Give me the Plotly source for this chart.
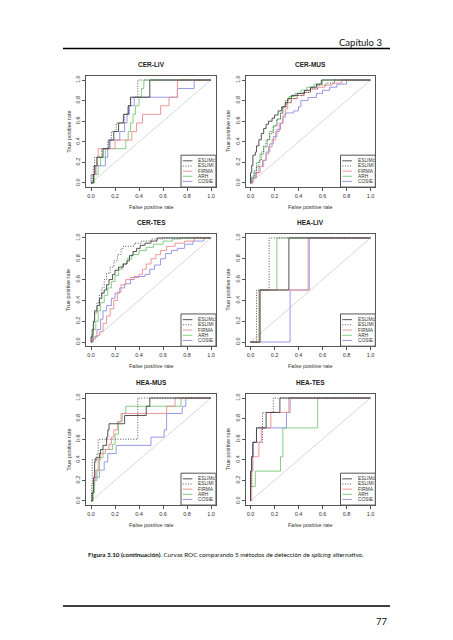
import plotly.graph_objects as go

W, H = 453, 640

methods = ["ESLIMc", "ESLIMl", "FIRMA", "ARH", "COSIE"]
method_colors = ["#404040", "#404040", "#ee8a8a", "#78c878", "#8c8cea"]
method_dash = ["solid", "1px,1.6px", "solid", "solid", "solid"]
panel_titles = ["CER-LIV", "CER-MUS", "CER-TES", "HEA-LIV", "HEA-MUS", "HEA-TES"]
tick_vals = [0, 0.2, 0.4, 0.6, 0.8, 1.0]
tick_text = ["0.0", "0.2", "0.4", "0.6", "0.8", "1.0"]
x_label = "False positive rate"
y_label = "True positive rate"

# ROC curves: (false positive rate where TPR rises, TPR level reached)
cer_liv_eslimc = [(0, 0), (0.02, 0.083), (0.03, 0.167), (0.05, 0.25), (0.10, 0.333), (0.15, 0.417), (0.19, 0.5),
                  (0.23, 0.583), (0.27, 0.667), (0.31, 0.75), (0.33, 0.833), (0.49, 1.0), (1, 1)]
cer_liv_esliml = [(0, 0), (0.01, 0.083), (0.02, 0.167), (0.03, 0.25), (0.09, 0.333), (0.14, 0.417), (0.17, 0.5),
                  (0.21, 0.583), (0.28, 0.667), (0.31, 0.75), (0.33, 0.833), (0.39, 1.0), (1, 1)]
cer_liv_firma = [(0, 0), (0.02, 0.083), (0.04, 0.167), (0.05, 0.25), (0.06, 0.333), (0.20, 0.417), (0.34, 0.5),
                 (0.38, 0.583), (0.43, 0.667), (0.58, 0.75), (0.65, 0.833), (0.72, 1.0), (1, 1)]
cer_liv_arh = [(0, 0), (0.03, 0.083), (0.06, 0.167), (0.08, 0.25), (0.12, 0.333), (0.29, 0.417), (0.31, 0.5),
               (0.33, 0.583), (0.35, 0.667), (0.37, 0.75), (0.40, 0.833), (0.42, 0.917), (0.44, 1.0), (1, 1)]
cer_liv_cosie = [(0, 0), (0.0, 0.083), (0.04, 0.167), (0.12, 0.25), (0.14, 0.333), (0.16, 0.417), (0.24, 0.5),
                 (0.28, 0.583), (0.30, 0.667), (0.32, 0.75), (0.36, 0.833), (0.72, 0.917), (0.86, 1.0), (1, 1)]

cer_mus_eslimc = [(0, 0), (0.0, 0.1), (0.01, 0.17), (0.02, 0.27), (0.04, 0.3), (0.05, 0.36), (0.07, 0.42),
                  (0.09, 0.48), (0.11, 0.53), (0.13, 0.57), (0.15, 0.6), (0.18, 0.63), (0.2, 0.66), (0.23, 0.7),
                  (0.26, 0.74), (0.29, 0.78), (0.31, 0.82), (0.34, 0.85), (0.39, 0.87), (0.45, 0.9), (0.5, 0.93),
                  (0.55, 0.96), (0.59, 1.0), (1, 1)]
cer_mus_esliml = [(0, 0), (0.01, 0.05), (0.03, 0.1), (0.05, 0.16), (0.07, 0.22), (0.09, 0.3), (0.11, 0.36),
                  (0.13, 0.42), (0.16, 0.48), (0.19, 0.55), (0.22, 0.62), (0.25, 0.68), (0.27, 0.74), (0.3, 0.78),
                  (0.34, 0.82), (0.38, 0.85), (0.44, 0.88), (0.5, 0.92), (0.56, 0.95), (0.63, 0.97), (0.7, 1.0), (1, 1)]
cer_mus_firma = [(0, 0), (0.02, 0.05), (0.05, 0.1), (0.08, 0.16), (0.11, 0.22), (0.13, 0.28), (0.15, 0.35),
                 (0.18, 0.42), (0.21, 0.5), (0.24, 0.58), (0.27, 0.66), (0.29, 0.72), (0.31, 0.78), (0.34, 0.82),
                 (0.39, 0.85), (0.45, 0.88), (0.5, 0.91), (0.56, 0.93), (0.62, 0.95), (0.68, 0.97), (0.76, 1.0), (1, 1)]
cer_mus_arh = [(0, 0), (0.01, 0.06), (0.03, 0.12), (0.05, 0.2), (0.08, 0.28), (0.11, 0.35), (0.14, 0.42),
               (0.16, 0.5), (0.19, 0.56), (0.22, 0.62), (0.25, 0.68), (0.27, 0.74), (0.29, 0.8), (0.32, 0.84),
               (0.37, 0.87), (0.42, 0.9), (0.47, 0.93), (0.53, 0.96), (0.6, 1.0), (1, 1)]
cer_mus_cosie = [(0, 0), (0.02, 0.05), (0.04, 0.1), (0.07, 0.16), (0.1, 0.22), (0.13, 0.3), (0.16, 0.38),
                 (0.19, 0.45), (0.22, 0.52), (0.25, 0.58), (0.27, 0.64), (0.29, 0.68), (0.36, 0.7), (0.4, 0.74),
                 (0.42, 0.8), (0.48, 0.83), (0.55, 0.87), (0.6, 0.9), (0.66, 0.93), (0.72, 0.96), (0.8, 1.0), (1, 1)]

cer_tes_eslimc = [(0, 0), (0.0, 0.05), (0.01, 0.12), (0.02, 0.2), (0.03, 0.3), (0.05, 0.35), (0.07, 0.42),
                  (0.09, 0.47), (0.11, 0.5), (0.13, 0.55), (0.15, 0.6), (0.18, 0.65), (0.2, 0.69), (0.23, 0.72),
                  (0.27, 0.75), (0.3, 0.78), (0.32, 0.83), (0.35, 0.87), (0.38, 0.9), (0.41, 0.93), (0.45, 0.95),
                  (0.5, 0.97), (0.55, 1.0), (1, 1)]
cer_tes_esliml = [(0, 0), (0.01, 0.08), (0.02, 0.18), (0.03, 0.28), (0.05, 0.38), (0.07, 0.45), (0.09, 0.52),
                  (0.11, 0.6), (0.13, 0.66), (0.16, 0.72), (0.19, 0.78), (0.22, 0.84), (0.25, 0.9), (0.27, 0.92),
                  (0.36, 0.95), (0.42, 0.97), (0.5, 0.99), (0.6, 1.0), (1, 1)]
cer_tes_firma = [(0, 0), (0.01, 0.03), (0.04, 0.06), (0.07, 0.1), (0.1, 0.18), (0.13, 0.25), (0.16, 0.32),
                 (0.19, 0.4), (0.22, 0.48), (0.25, 0.55), (0.29, 0.6), (0.33, 0.62), (0.4, 0.65), (0.43, 0.7),
                 (0.46, 0.75), (0.5, 0.8), (0.54, 0.84), (0.58, 0.88), (0.63, 0.92), (0.7, 0.95), (0.78, 0.97),
                 (0.86, 1.0), (1, 1)]
cer_tes_arh = [(0, 0), (0.01, 0.05), (0.02, 0.12), (0.04, 0.2), (0.06, 0.3), (0.08, 0.38), (0.11, 0.45),
               (0.14, 0.52), (0.17, 0.58), (0.2, 0.64), (0.23, 0.7), (0.26, 0.75), (0.3, 0.8), (0.34, 0.84),
               (0.4, 0.88), (0.46, 0.91), (0.52, 0.94), (0.6, 0.97), (0.68, 0.99), (0.75, 1.0), (1, 1)]
cer_tes_cosie = [(0, 0), (0.02, 0.05), (0.05, 0.12), (0.08, 0.22), (0.1, 0.3), (0.13, 0.35), (0.17, 0.42),
                 (0.2, 0.47), (0.24, 0.52), (0.28, 0.56), (0.33, 0.6), (0.36, 0.63), (0.45, 0.65), (0.49, 0.7),
                 (0.53, 0.74), (0.58, 0.8), (0.62, 0.85), (0.67, 0.88), (0.72, 0.9), (0.78, 0.94), (0.85, 0.97),
                 (0.94, 1.0), (1, 1)]

hea_liv_eslimc = [(0, 0), (0.08, 0.5), (0.32, 1.0), (1, 1)]
hea_liv_esliml = [(0, 0), (0.05, 0.5), (0.155, 1.0), (1, 1)]
hea_liv_firma = [(0, 0), (0.075, 0.5), (0.48, 1.0), (1, 1)]
hea_liv_arh = [(0, 0), (0.07, 0.5), (0.22, 1.0), (1, 1)]
hea_liv_cosie = [(0, 0), (0.33, 0.5), (0.49, 1.0), (1, 1)]

hea_mus_eslimc = [(0, 0), (0.01, 0.08), (0.02, 0.23), (0.03, 0.38), (0.04, 0.42), (0.07, 0.46), (0.08, 0.5),
                  (0.1, 0.54), (0.13, 0.62), (0.14, 0.69), (0.15, 0.75), (0.28, 0.83), (0.46, 0.92), (0.49, 1.0), (1, 1)]
hea_mus_esliml = [(0, 0), (0.005, 0.15), (0.01, 0.4), (0.05, 0.46), (0.06, 0.6), (0.39, 1.0), (1, 1)]
hea_mus_firma = [(0, 0), (0.01, 0.08), (0.02, 0.2), (0.04, 0.3), (0.06, 0.4), (0.08, 0.46), (0.12, 0.5),
                 (0.15, 0.55), (0.17, 0.62), (0.19, 0.69), (0.22, 0.77), (0.25, 0.85), (0.63, 0.92), (0.70, 1.0), (1, 1)]
hea_mus_arh = [(0, 0), (0.02, 0.08), (0.03, 0.2), (0.05, 0.3), (0.07, 0.42), (0.1, 0.5), (0.18, 0.55),
               (0.2, 0.65), (0.23, 0.77), (0.26, 0.85), (0.29, 0.92), (0.75, 1.0), (1, 1)]
hea_mus_cosie = [(0, 0), (0.01, 0.08), (0.02, 0.15), (0.03, 0.23), (0.07, 0.3), (0.11, 0.38), (0.14, 0.46),
                 (0.21, 0.54), (0.5, 0.62), (0.61, 0.69), (0.63, 0.85), (0.76, 0.92), (0.79, 1.0), (1, 1)]

hea_tes_eslimc = [(0, 0), (0.0, 0.29), (0.01, 0.43), (0.02, 0.57), (0.05, 0.71), (0.13, 0.86), (0.245, 1.0), (1, 1)]
hea_tes_esliml = [(0, 0), (0.0, 0.14), (0.01, 0.43), (0.02, 0.57), (0.1, 0.86), (0.19, 1.0), (1, 1)]
hea_tes_firma = [(0, 0), (0.01, 0.29), (0.02, 0.43), (0.07, 0.57), (0.09, 0.71), (0.17, 0.86), (0.32, 1.0), (1, 1)]
hea_tes_arh = [(0, 0), (0.0, 0.14), (0.04, 0.29), (0.25, 0.43), (0.27, 0.71), (0.56, 1.0), (1, 1)]
hea_tes_cosie = [(0, 0), (0.0, 0.29), (0.01, 0.43), (0.02, 0.57), (0.05, 0.71), (0.3, 0.86), (0.33, 1.0), (1, 1)]

panels = [
    [cer_liv_eslimc, cer_liv_esliml, cer_liv_firma, cer_liv_arh, cer_liv_cosie],
    [cer_mus_eslimc, cer_mus_esliml, cer_mus_firma, cer_mus_arh, cer_mus_cosie],
    [cer_tes_eslimc, cer_tes_esliml, cer_tes_firma, cer_tes_arh, cer_tes_cosie],
    [hea_liv_eslimc, hea_liv_esliml, hea_liv_firma, hea_liv_arh, hea_liv_cosie],
    [hea_mus_eslimc, hea_mus_esliml, hea_mus_firma, hea_mus_arh, hea_mus_cosie],
    [hea_tes_eslimc, hea_tes_esliml, hea_tes_firma, hea_tes_arh, hea_tes_cosie],
]

# layout geometry (pixels)
col_x0 = [86.2, 245.7]
box_w = 129.6
row_y0 = [75.9, 233.8, 393.9]
box_h = [111.2, 112.4, 111.2]

fig = go.Figure()
layout = dict(
    width=W, height=H, margin=dict(l=0, r=0, t=0, b=0),
    paper_bgcolor="white", plot_bgcolor="white", showlegend=False,
    font=dict(family="Liberation Sans, Arial, sans-serif", color="#222222"),
)
annotations = []
shapes = []
plot_font = "Liberation Sans, Arial, sans-serif"
page_font = "Lato, Open Sans, sans-serif"

for i, curves in enumerate(panels):
    r, c = divmod(i, 2)
    n = i + 1
    xa = "x" if n == 1 else f"x{n}"
    ya = "y" if n == 1 else f"y{n}"
    x0 = col_x0[c]
    y0 = row_y0[r]
    h = box_h[r]
    dom_x = [x0 / W, (x0 + box_w) / W]
    dom_y = [1 - (y0 + h) / H, 1 - y0 / H]
    axis_common = dict(range=[-0.04, 1.04], showgrid=False, zeroline=False, showline=True, mirror=True,
                       linecolor="#555555", linewidth=1, ticks="outside", ticklen=3, tickcolor="#555555",
                       tickwidth=1, tickvals=tick_vals, ticktext=tick_text,
                       tickfont=dict(size=5.5, color="#333333", family=plot_font), fixedrange=True)
    layout["xaxis" if n == 1 else f"xaxis{n}"] = dict(domain=dom_x, anchor=ya, **axis_common)
    layout["yaxis" if n == 1 else f"yaxis{n}"] = dict(domain=dom_y, anchor=xa, tickangle=-90, **axis_common)

    # diagonal reference
    fig.add_trace(go.Scatter(x=[0, 1], y=[0, 1], mode="lines", xaxis=xa, yaxis=ya,
                             line=dict(color="#d8d8d8", width=1), hoverinfo="skip"))
    for k in [4, 3, 2, 1, 0]:
        pts = curves[k]
        fig.add_trace(go.Scatter(x=[p[0] for p in pts], y=[p[1] for p in pts], mode="lines",
                                 xaxis=xa, yaxis=ya, name=methods[k], line_shape="hv",
                                 line=dict(color=method_colors[k], width=0.9, dash=method_dash[k])))

    cx = (x0 + box_w / 2) / W
    # panel title
    annotations.append(dict(text=f"<b>{panel_titles[i]}</b>", x=cx, y=1 - (y0 - 11) / H, xref="paper",
                            yref="paper", showarrow=False, font=dict(size=6.5, family=plot_font, color="#222222"),
                            xanchor="center", yanchor="middle"))
    # axis labels
    annotations.append(dict(text=x_label, x=cx, y=1 - (y0 + h + 20) / H, xref="paper", yref="paper",
                            showarrow=False, font=dict(size=5.5, family=plot_font, color="#333333"),
                            xanchor="center", yanchor="middle"))
    annotations.append(dict(text=y_label, x=(x0 - 18) / W, y=1 - (y0 + h / 2) / H, xref="paper",
                            yref="paper", showarrow=False, textangle=-90,
                            font=dict(size=5.5, family=plot_font, color="#333333"),
                            xanchor="center", yanchor="middle"))
    # legend box (axis coordinates)
    shapes.append(dict(type="rect", xref=xa, yref=ya, x0=0.75, x1=1.04, y0=-0.04, y1=0.27,
                       line=dict(color="#555555", width=1), fillcolor="white", layer="above"))
    levels = [0.215, 0.165, 0.115, 0.065, 0.015]
    for k in range(5):
        shapes.append(dict(type="line", xref=xa, yref=ya, x0=0.765, x1=0.845, y0=levels[k], y1=levels[k],
                           line=dict(color=method_colors[k], width=0.9, dash=method_dash[k]), layer="above"))
        annotations.append(dict(text=methods[k], x=0.875, y=levels[k], xref=xa, yref=ya, showarrow=False,
                                xanchor="left", yanchor="middle",
                                font=dict(size=4.8, family=plot_font, color="#333333")))

# page header / footer
shapes.append(dict(type="line", xref="paper", yref="paper", x0=63 / W, x1=390 / W, y0=1 - 48.5 / H,
                   y1=1 - 48.5 / H, line=dict(color="black", width=1.5)))
annotations.append(dict(text="Capítulo 3", x=384 / W, y=1 - 42 / H, xref="paper", yref="paper",
                        showarrow=False, xanchor="right", yanchor="middle",
                        font=dict(size=9.5, family=page_font, color="#111111")))
annotations.append(dict(text="<b>Figura 3.10 (continuación)</b>. Curvas ROC comparando 5 métodos de detección de "
                             "<i>splicing</i> alternativo.", x=86 / W, y=1 - 554 / H, xref="paper", yref="paper",
                        showarrow=False, xanchor="left", yanchor="middle",
                        font=dict(size=6.3, family=page_font, color="#111111")))
shapes.append(dict(type="line", xref="paper", yref="paper", x0=63 / W, x1=390 / W, y0=1 - 606 / H,
                   y1=1 - 606 / H, line=dict(color="black", width=1.5)))
annotations.append(dict(text="77", x=390 / W, y=1 - 621 / H, xref="paper", yref="paper",
                        showarrow=False, xanchor="right", yanchor="middle",
                        font=dict(size=9.5, family=page_font, color="#111111")))

layout["annotations"] = annotations
layout["shapes"] = shapes
fig.update_layout(**layout)
fig.write_html("out.html", config={"displayModeBar": False, "staticPlot": True},
               post_script="document.body.style.margin='0px';document.body.style.overflow='hidden';")
